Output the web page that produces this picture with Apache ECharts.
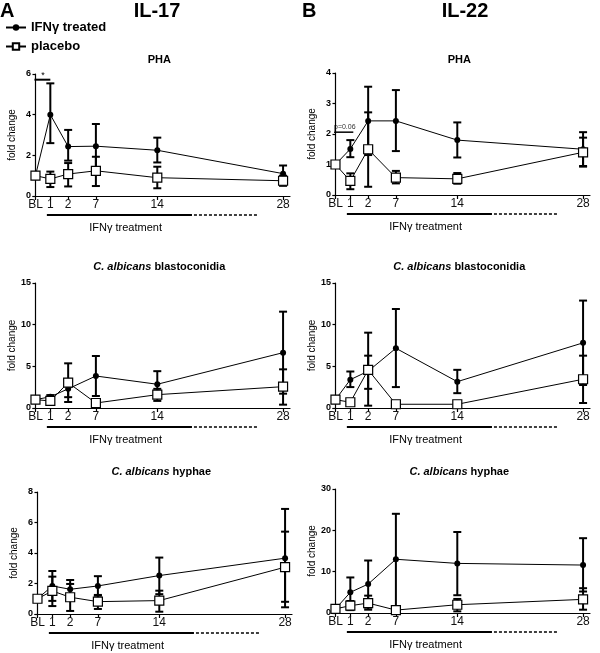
<!DOCTYPE html>
<html><head><meta charset="utf-8">
<script src="https://cdn.jsdelivr.net/npm/echarts@6/dist/echarts.min.js"></script>
<style>html,body{margin:0;padding:0;background:#fff}#c{width:600px;height:653px}</style>
</head><body><div id="c"></div>
<script>
// ---- x axis (GraphPad-style spaced timepoints) ----
const xLabels = ['BL', '1', '2', '7', '14', '28'];
const xPos = [0, 1.5, 3.3, 6.1, 12.3, 25];

// ---- IL-17, PHA ----
const il17_pha_ifn = [1, 4.0, 2.43, 2.45, 2.25, 1.1];
const il17_pha_ifn_lo = [1, 2.6, 1.74, 1.39, 1.65, 0.8];
const il17_pha_ifn_hi = [1, 5.54, 3.25, 3.54, 2.87, 1.5];
const il17_pha_pla = [1, 0.84, 1.08, 1.24, 0.9, 0.75];
const il17_pha_pla_lo = [1, 0.44, 0.47, 0.49, 0.38, 0.5];
const il17_pha_pla_hi = [1, 1.2, 1.62, 1.93, 1.44, 1.0];
// ---- IL-22, PHA ----
const il22_pha_ifn = [1, 1.51, 2.43, 2.43, 1.8, 1.5];
const il22_pha_ifn_lo = [1, 1.24, 1.31, 1.44, 1.23, 0.95];
const il22_pha_ifn_hi = [1, 1.8, 3.55, 3.44, 2.38, 2.06];
const il22_pha_pla = [1, 0.46, 1.5, 0.57, 0.53, 1.4];
const il22_pha_pla_lo = [1, 0.19, 0.27, 0.38, 0.37, 0.93];
const il22_pha_pla_hi = [1, 0.71, 2.71, 0.79, 0.72, 1.88];
// ---- IL-17, C. albicans blastoconidia ----
const il17_bla_ifn = [1, 1.35, 2.3, 3.84, 2.85, 6.64];
const il17_bla_ifn_lo = [1, 1.15, 1.3, 1.44, 1.28, 1.72];
const il17_bla_ifn_hi = [1, 1.55, 3.4, 6.24, 4.42, 11.56];
const il17_bla_pla = [1, 0.85, 3.04, 0.6, 1.6, 2.56];
const il17_bla_pla_lo = [1, 0.65, 0.72, 0.45, 0.85, 0.4];
const il17_bla_pla_hi = [1, 1.1, 5.36, 0.75, 2.3, 4.64];
// ---- IL-22, C. albicans blastoconidia ----
const il22_bla_ifn = [1, 3.4, 4.42, 7.17, 3.16, 7.82];
const il22_bla_ifn_lo = [1, 2.51, 0.28, 2.51, 1.78, 2.76];
const il22_bla_ifn_hi = [1, 4.38, 9.04, 11.88, 4.58, 12.89];
const il22_bla_pla = [1, 0.69, 4.58, 0.45, 0.45, 3.45];
const il22_bla_pla_lo = [1, 0.55, 2.3, 0.35, 0.35, 0.6];
const il22_bla_pla_hi = [1, 0.85, 6.28, 0.55, 0.55, 6.28];
// ---- IL-17, C. albicans hyphae ----
const il17_hyp_ifn = [1, 1.84, 1.62, 1.84, 2.52, 3.66];
const il17_hyp_ifn_lo = [1, 0.86, 1.0, 1.2, 1.3, 0.44];
const il17_hyp_ifn_hi = [1, 2.82, 2.23, 2.48, 3.7, 6.89];
const il17_hyp_pla = [1, 1.51, 1.1, 0.81, 0.88, 3.07];
const il17_hyp_pla_lo = [1, 0.52, 0.2, 0.33, 0.15, 0.8];
const il17_hyp_pla_hi = [1, 2.45, 1.97, 1.25, 1.53, 5.4];
// ---- IL-22, C. albicans hyphae ----
const il22_hyp_ifn = [1, 5.0, 7.0, 13.0, 12.0, 11.6];
const il22_hyp_ifn_lo = [1, 1.4, 1.3, 1.7, 4.3, 5.2];
const il22_hyp_ifn_hi = [1, 8.6, 12.7, 24.0, 19.6, 18.1];
const il22_hyp_pla = [1, 1.77, 2.4, 0.7, 2.0, 3.3];
const il22_hyp_pla_lo = [1, 0.7, 0.8, 0.3, 0.4, 0.8];
const il22_hyp_pla_hi = [1, 2.9, 4.2, 1.1, 3.4, 6.0];

// ---- y axis ranges ----
const yMax = [6, 4, 15, 15, 8, 30];
const yStep = [2, 1, 5, 5, 2, 10];

const panels = [
  {ifn: il17_pha_ifn, ifnLo: il17_pha_ifn_lo, ifnHi: il17_pha_ifn_hi, pla: il17_pha_pla, plaLo: il17_pha_pla_lo, plaHi: il17_pha_pla_hi},
  {ifn: il22_pha_ifn, ifnLo: il22_pha_ifn_lo, ifnHi: il22_pha_ifn_hi, pla: il22_pha_pla, plaLo: il22_pha_pla_lo, plaHi: il22_pha_pla_hi},
  {ifn: il17_bla_ifn, ifnLo: il17_bla_ifn_lo, ifnHi: il17_bla_ifn_hi, pla: il17_bla_pla, plaLo: il17_bla_pla_lo, plaHi: il17_bla_pla_hi},
  {ifn: il22_bla_ifn, ifnLo: il22_bla_ifn_lo, ifnHi: il22_bla_ifn_hi, pla: il22_bla_pla, plaLo: il22_bla_pla_lo, plaHi: il22_bla_pla_hi},
  {ifn: il17_hyp_ifn, ifnLo: il17_hyp_ifn_lo, ifnHi: il17_hyp_ifn_hi, pla: il17_hyp_pla, plaLo: il17_hyp_pla_lo, plaHi: il17_hyp_pla_hi},
  {ifn: il22_hyp_ifn, ifnLo: il22_hyp_ifn_lo, ifnHi: il22_hyp_ifn_hi, pla: il22_hyp_pla, plaLo: il22_hyp_pla_lo, plaHi: il22_hyp_pla_hi}
];

const FONT = 'Arial, "Liberation Sans", sans-serif';
const gridBoxes = [
  {left: 33, top: 74, width: 257, height: 122},
  {left: 333, top: 73, width: 257, height: 122},
  {left: 33, top: 283, width: 257, height: 125},
  {left: 333, top: 283, width: 257, height: 125},
  {left: 35, top: 492, width: 257, height: 122},
  {left: 333, top: 489, width: 257, height: 124}
];

function errItem(params, api) {
  const x = api.value(0), lo = api.value(1), hi = api.value(2);
  if (lo === hi) return null;
  const a = api.coord([x, lo]), b = api.coord([x, hi]);
  const w = 4, st = {stroke: '#000', lineWidth: 2};
  return {type: 'group', children: [
    {type: 'line', shape: {x1: a[0], y1: a[1], x2: b[0], y2: b[1]}, style: st},
    {type: 'line', shape: {x1: a[0] - w, y1: a[1], x2: a[0] + w, y2: a[1]}, style: st},
    {type: 'line', shape: {x1: b[0] - w, y1: b[1], x2: b[0] + w, y2: b[1]}, style: st}
  ]};
}

const grids = [], xAxes = [], yAxes = [], series = [];
panels.forEach((p, i) => {
  grids.push(Object.assign({containLabel: false}, gridBoxes[i]));
  xAxes.push({
    type: 'value', gridIndex: i, min: -0.25, max: 25.7,
    axisLine: {onZero: false, lineStyle: {color: '#000', width: 1.2}},
    axisTick: {customValues: xPos, length: 4, lineStyle: {color: '#000', width: 1.2}},
    axisLabel: {customValues: xPos, margin: 3, fontSize: 12, color: '#111', fontFamily: FONT,
      formatter: v => { const k = xPos.findIndex(q => Math.abs(q - v) < 1e-6); return k >= 0 ? xLabels[k] : ''; }},
    splitLine: {show: false}
  });
  yAxes.push({
    type: 'value', gridIndex: i, min: 0, max: yMax[i], interval: yStep[i],
    name: 'fold change', nameLocation: 'middle', nameGap: 16,
    nameTextStyle: {fontSize: 10, color: '#000', fontFamily: FONT},
    axisLine: {show: true, lineStyle: {color: '#000', width: 1.2}},
    axisTick: {show: true, length: 3, lineStyle: {color: '#000', width: 1.2}},
    axisLabel: {fontSize: 9, fontWeight: 'bold', margin: 2, color: '#000', fontFamily: FONT},
    splitLine: {show: false}
  });
  const mk = arr => xPos.map((x, k) => [x, arr[k]]);
  const mkE = (lo, hi) => xPos.map((x, k) => [x, lo[k], hi[k]]);
  series.push({type: 'custom', xAxisIndex: i, yAxisIndex: i, renderItem: errItem, data: mkE(p.ifnLo, p.ifnHi), z: 2, silent: true});
  series.push({type: 'custom', xAxisIndex: i, yAxisIndex: i, renderItem: errItem, data: mkE(p.plaLo, p.plaHi), z: 2, silent: true});
  series.push({name: 'IFNγ treated', type: 'line', xAxisIndex: i, yAxisIndex: i, data: mk(p.ifn),
    symbol: 'circle', symbolSize: 6, lineStyle: {color: '#000', width: 1}, itemStyle: {color: '#000'}, z: 3});
  series.push({name: 'placebo', type: 'line', xAxisIndex: i, yAxisIndex: i, data: mk(p.pla),
    symbol: 'rect', symbolSize: 9, lineStyle: {color: '#000', width: 1},
    itemStyle: {color: '#fff', borderColor: '#000', borderWidth: 1.2}, z: 4});
});

const chart = echarts.init(document.getElementById('c'), null, {renderer: 'canvas'});
chart.setOption({
  animation: false,
  backgroundColor: '#fff',
  legend: {
    data: ['IFNγ treated', 'placebo'], orient: 'vertical', left: 0, top: 16,
    itemWidth: 20, itemHeight: 8, itemGap: 6,
    textStyle: {fontSize: 13, fontWeight: 'bold', color: '#000', fontFamily: FONT}
  },
  grid: grids, xAxis: xAxes, yAxis: yAxes, series: series
});

// ---- annotations positioned via the axes ----
const subTitles = [
  {text: 'PHA'}, {text: 'PHA'},
  {text: '{i|C. albicans} blastoconidia'}, {text: '{i|C. albicans} blastoconidia'},
  {text: '{i|C. albicans} hyphae'}, {text: '{i|C. albicans} hyphae'}
];
const subTitleY = [60, 60, 267, 267, 472, 472];
const g = [];
const txt = (x, y, text, size, weight, align, extra) => ({type: 'text', x: x, y: y, silent: true,
  style: Object.assign({text: text, fontSize: size, fontWeight: weight || 'normal', fontFamily: FONT,
    fill: '#000', align: align || 'center', verticalAlign: 'middle'}, extra || {})});
g.push(txt(0, 11, 'A', 20, 'bold', 'left'));
g.push(txt(157, 11, 'IL-17', 20, 'bold'));
g.push(txt(302, 11, 'B', 20, 'bold', 'left'));
g.push(txt(465, 11, 'IL-22', 20, 'bold'));
panels.forEach((p, i) => {
  const c = (x, y) => chart.convertToPixel({gridIndex: i}, [x, y]);
  const mid = c(12.5, 0);
  g.push(txt(mid[0], subTitleY[i], subTitles[i].text, 11, 'bold', 'center',
    {rich: {i: {fontStyle: 'italic', fontWeight: 'bold', fontSize: 11, fontFamily: FONT, fill: '#000'}}}));
  const s0 = c(1.15, 0), s1 = c(15.8, 0), s2 = c(22.5, 0);
  const ly = s0[1] + 19;
  g.push({type: 'line', silent: true, shape: {x1: s0[0], y1: ly, x2: s1[0], y2: ly}, style: {stroke: '#000', lineWidth: 2}});
  g.push({type: 'line', silent: true, shape: {x1: s1[0] + 2, y1: ly, x2: s2[0], y2: ly}, style: {stroke: '#000', lineWidth: 1.5, lineDash: [3, 2]}});
  const tl = c(9.1, 0);
  g.push(txt(tl[0], s0[1] + 32, 'IFNγ treatment', 11, 'normal'));
});
// significance annotations
{
  const a = chart.convertToPixel({gridIndex: 0}, [0, 5.72]);
  const b = chart.convertToPixel({gridIndex: 0}, [1.5, 5.72]);
  g.push({type: 'line', silent: true, shape: {x1: a[0] - 1, y1: a[1], x2: b[0], y2: a[1]}, style: {stroke: '#000', lineWidth: 2}});
  g.push(txt((a[0] + b[0]) / 2, a[1] - 4, '*', 9, 'normal'));
  const c1 = chart.convertToPixel({gridIndex: 1}, [-0.25, 2.06]);
  const c2 = chart.convertToPixel({gridIndex: 1}, [1.8, 2.06]);
  g.push({type: 'line', silent: true, shape: {x1: c1[0] + 1, y1: c1[1], x2: c2[0], y2: c1[1]}, style: {stroke: '#000', lineWidth: 1.5}});
  g.push(txt(c1[0] + 1, c1[1] - 5, 'p=0.06', 7, 'normal', 'left', {fill: '#333'}));
}
chart.setOption({graphic: g});
</script>
</body></html>
